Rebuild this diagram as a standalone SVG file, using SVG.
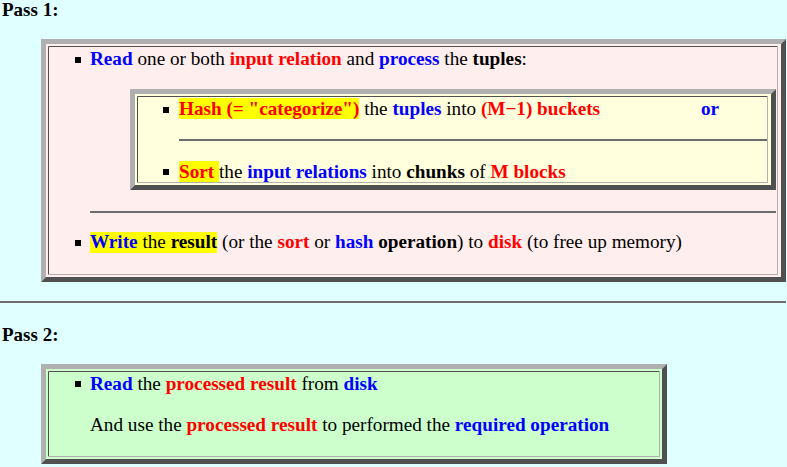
<svg xmlns="http://www.w3.org/2000/svg" width="787" height="467" viewBox="0 0 787 467">
<style>
text{font-family:"Liberation Serif","Times New Roman",serif;font-size:19.2px;fill:#000}
.lbl{font-weight:bold;font-size:19px}
.b{font-weight:bold}
.bl{font-weight:bold;fill:#0000ff}
.rd{font-weight:bold;fill:#ff0000}
.lt{fill:#b0b0b0}
.dk{fill:#505050}
.hl{fill:#ffff00}
.hr{fill:#6e6e6e}
.cd{stroke:#505050;stroke-width:1;fill:none}
.cl{stroke:#b0b0b0;stroke-width:1;fill:none}
</style>
<rect x="0" y="0" width="787" height="467" fill="#e0ffff"/>

<g id="pass1-label">
<text x="2" y="16" class="lbl">Pass 1:</text>
</g>

<g id="pass1-box">
<rect x="46" y="44" width="735" height="233" fill="#ffeeee"/>
<polygon class="lt" points="41,39 786,39 781,44 46,44 46,277 41,282"/>
<polygon class="dk" points="786,39 786,282 41,282 46,277 781,277 781,44"/>
<polyline class="cd" points="48.5,274.5 48.5,46.5 777.5,46.5"/>
<polyline class="cl" points="48.5,274.5 777.5,274.5 777.5,46.5"/>
<rect x="75" y="57" width="6" height="6" fill="#000"/>
<text x="90" y="65"><tspan class="bl">Read</tspan> one or both <tspan class="rd">input relation</tspan> and <tspan class="bl">process</tspan> the <tspan class="b">tuples</tspan>:</text>
<rect class="hr" x="90" y="211" width="686" height="2"/>
<rect class="hl" x="90" y="232" width="127" height="21"/>
<rect x="75" y="240" width="6" height="6" fill="#000"/>
<text x="90" y="248"><tspan class="bl">Write</tspan> the <tspan class="b">result</tspan> (or the <tspan class="rd">sort</tspan> or <tspan class="bl">hash</tspan> <tspan class="b">operation</tspan>) to <tspan class="rd">disk</tspan> (to free up memory)</text>
</g>

<g id="inner-box">
<rect x="135" y="94" width="636" height="91" fill="#ffffdd"/>
<polygon class="lt" points="130,89 776,89 771,94 135,94 135,185 130,190"/>
<polygon class="dk" points="776,89 776,190 130,190 135,185 771,185 771,94"/>
<polyline class="cd" points="137.5,182.5 137.5,96.5 767.5,96.5"/>
<polyline class="cl" points="137.5,182.5 767.5,182.5 767.5,96.5"/>
<rect class="hl" x="179" y="98" width="180" height="21"/>
<rect x="163" y="107" width="6" height="6" fill="#000"/>
<text x="179" y="115"><tspan class="rd">Hash (= "categorize")</tspan> the <tspan class="bl">tuples</tspan> into <tspan class="rd">(M−1) buckets</tspan></text>
<text x="701" y="115" class="bl">or</text>
<rect class="hr" x="179" y="139" width="588" height="2"/>
<rect class="hl" x="179" y="161" width="40" height="21"/>
<rect x="163" y="169" width="6" height="6" fill="#000"/>
<text x="179" y="178"><tspan class="rd">Sort</tspan> the <tspan class="bl">input relations</tspan> into <tspan class="b">chunks</tspan> of <tspan class="rd">M blocks</tspan></text>
</g>

<g id="separator">
<rect class="hr" x="0" y="301" width="786" height="2"/>
</g>

<g id="pass2-label">
<text x="2" y="341" class="lbl">Pass 2:</text>
</g>

<g id="pass2-box">
<rect x="46" y="369" width="616" height="90" fill="#ccffcc"/>
<polygon class="lt" points="41,364 667,364 662,369 46,369 46,459 41,464"/>
<polygon class="dk" points="667,364 667,464 41,464 46,459 662,459 662,369"/>
<polyline class="cd" points="48.5,456.5 48.5,371.5 659.5,371.5"/>
<polyline class="cl" points="48.5,456.5 659.5,456.5 659.5,371.5"/>
<rect x="75" y="381" width="6" height="6" fill="#000"/>
<text x="90" y="390"><tspan class="bl">Read</tspan> the <tspan class="rd">processed result</tspan> from <tspan class="bl">disk</tspan></text>
<text x="90" y="431">And use the <tspan class="rd">processed result</tspan> to performed the <tspan class="bl">required operation</tspan></text>
</g>
</svg>
